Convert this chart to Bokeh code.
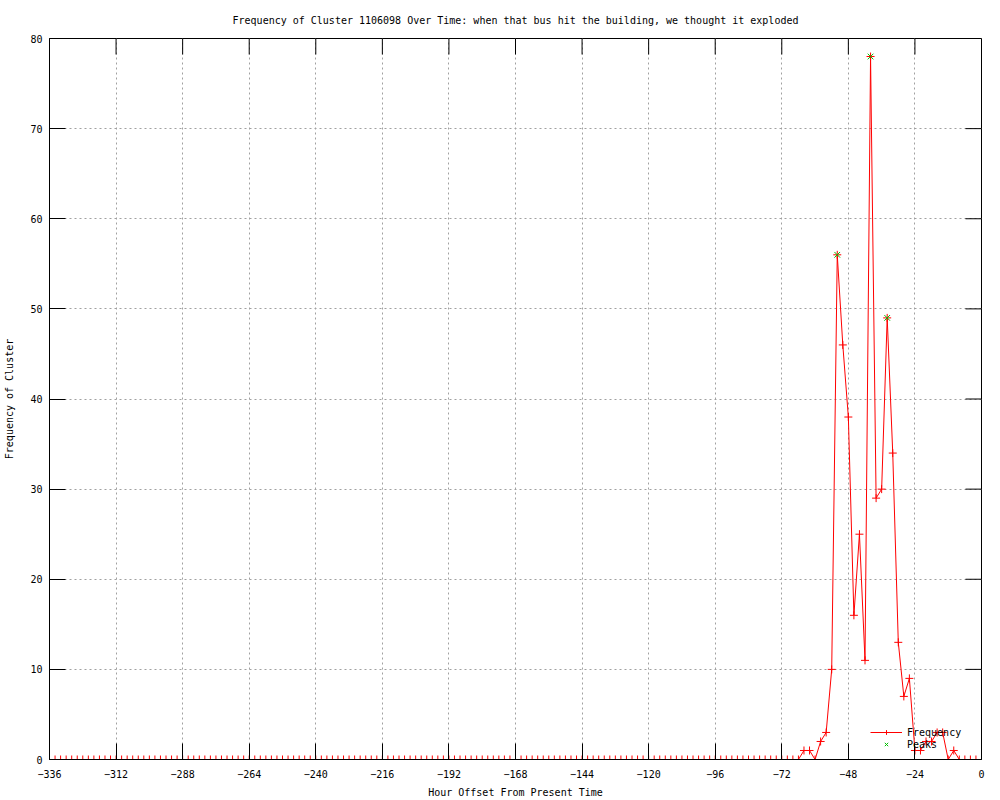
import math
from bokeh.plotting import figure
from bokeh.models import FixedTicker, Legend, LegendItem, Range1d
from bokeh.embed import file_html
from bokeh.resources import INLINE

FONT = "DejaVu Sans Mono"

# ---- data -------------------------------------------------------------
hours = list(range(-336, 0, 2))
frequency = [
    0, 0, 0, 0, 0, 0, 0, 0, 0, 0, 0, 0, 0, 0, 0, 0, 0, 0, 0, 0, 0, 0, 0, 0,
    0, 0, 0, 0, 0, 0, 0, 0, 0, 0, 0, 0, 0, 0, 0, 0, 0, 0, 0, 0, 0, 0, 0, 0,
    0, 0, 0, 0, 0, 0, 0, 0, 0, 0, 0, 0, 0, 0, 0, 0, 0, 0, 0, 0, 0, 0, 0, 0,
    0, 0, 0, 0, 0, 0, 0, 0, 0, 0, 0, 0, 0, 0, 0, 0, 0, 0, 0, 0, 0, 0, 0, 0,
    0, 0, 0, 0, 0, 0, 0, 0, 0, 0, 0, 0, 0, 0, 0, 0, 0, 0, 0, 0, 0, 0, 0, 0,
    0, 0, 0, 0, 0, 0, 0, 0, 0, 0, 0, 0, 0, 0, 0, 0, 1, 1, 0, 2, 3, 10, 56, 46,
    38, 16, 25, 11, 78, 29, 30, 49, 34, 13, 7, 9, 1, 1, 2, 2, 3, 3, 0, 1, 0, 0, 0, 0,
]
peak_hours = [-52, -40, -34]
peak_values = [56, 78, 49]

x_ticks = [-336, -312, -288, -264, -240, -216, -192, -168, -144, -120, -96, -72, -48, -24, 0]
y_ticks = [0, 10, 20, 30, 40, 50, 60, 70, 80]

title_text = ("Frequency of Cluster 1106098 Over Time: when that bus hit the "
              "building, we thought it exploded")
x_label = "Hour Offset From Present Time"
y_label = "Frequency of Cluster"

x_min, x_max = x_ticks[0], x_ticks[-1]
y_min, y_max = y_ticks[0], y_ticks[-1]

# ---- figure -----------------------------------------------------------
p = figure(width=1000, height=800,
           x_range=Range1d(x_min, x_max), y_range=Range1d(y_min, y_max),
           output_backend="svg", toolbar_location=None,
           title=title_text, x_axis_label=x_label, y_axis_label=y_label,
           min_border_left=49, min_border_right=19,
           min_border_top=38, min_border_bottom=40)

p.background_fill_color = "white"
p.border_fill_color = "white"
p.outline_line_color = "black"
p.outline_line_width = 1
p.outline_line_alpha = 1

p.title.text_font = FONT
p.title.text_font_size = "10px"
p.title.text_font_style = "normal"
p.title.text_color = "black"
p.title.align = "center"
p.title.standoff = 25

p.xaxis.ticker = FixedTicker(ticks=x_ticks)
p.yaxis.ticker = FixedTicker(ticks=y_ticks)
for ax in p.xaxis + p.yaxis:
    ax.major_tick_in = 16
    ax.major_tick_out = 0
    ax.minor_tick_in = 0
    ax.minor_tick_out = 0
    ax.axis_line_color = "black"
    ax.major_tick_line_color = "black"
    ax.major_label_text_font = FONT
    ax.major_label_text_font_size = "10px"
    ax.major_label_text_color = "black"
    ax.axis_label_text_font = FONT
    ax.axis_label_text_font_size = "10px"
    ax.axis_label_text_font_style = "normal"
    ax.axis_label_text_color = "black"
p.xaxis.major_label_standoff = 10
p.yaxis.major_label_standoff = 7
p.xaxis.axis_label_standoff = 6
p.yaxis.axis_label_standoff = 12

p.xgrid.grid_line_color = "#a0a0a0"
p.ygrid.grid_line_color = "#a0a0a0"
p.xgrid.grid_line_dash = "2 3"
p.ygrid.grid_line_dash = "2 3"
p.xgrid.grid_line_width = 1
p.ygrid.grid_line_width = 1

# mirror ticks on the top and right edges of the frame
p.ray(x=x_ticks, y=[y_max] * len(x_ticks), length=16, length_units="screen",
      angle=-math.pi / 2, line_color="black", line_width=1)
p.ray(x=[x_max] * len(y_ticks), y=y_ticks, length=16, length_units="screen",
      angle=math.pi, line_color="black", line_width=1)

# ---- data glyphs ------------------------------------------------------
line_r = p.line(hours, frequency, line_color="#ff0000", line_width=1)
freq_pts = p.scatter(hours, frequency, marker="cross", size=8,
                     line_color="#ff0000", line_width=1)
peak_pts = p.scatter(peak_hours, peak_values, marker="x", size=8,
                     line_color="#00c000", line_width=1)

legend = Legend(items=[LegendItem(label="Frequency", renderers=[line_r, freq_pts]),
                       LegendItem(label="Peaks", renderers=[peak_pts])],
                location=(821, 9), glyph_width=32, glyph_height=12,
                label_standoff=5,
                label_text_font=FONT, label_text_font_size="10px",
                label_text_color="black", spacing=0, padding=0, margin=0,
                background_fill_alpha=0, border_line_alpha=0)
p.add_layout(legend)

open("out.html", "w").write(file_html(p, INLINE))
